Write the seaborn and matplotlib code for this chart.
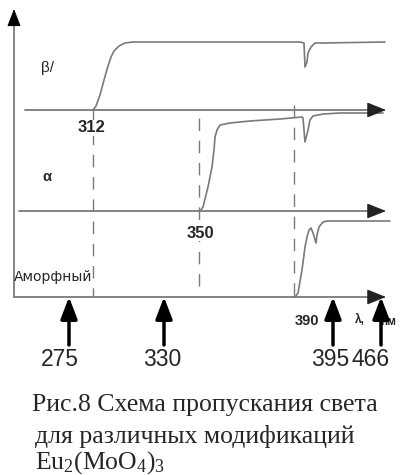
import matplotlib
matplotlib.use("Agg")
import matplotlib.pyplot as plt
import pandas as pd
import seaborn as sns

# Transmission curves of the three modifications (schematic units, y grows downward)
beta_x = [93, 96, 100, 104, 108, 111, 114, 119, 125, 133, 200, 300, 304, 305, 307, 308, 311, 315, 323, 385]
beta_y = [110, 106, 95, 80, 66, 57, 51, 46, 43, 42, 42, 42, 43, 67, 62, 53, 47, 43, 43, 42]
alpha_x = [199, 201, 203, 208, 212, 214, 215, 217, 220, 230, 250, 280, 302, 303, 305, 308, 310, 313, 323, 340, 383]
alpha_y = [211, 210, 207, 187, 167, 150, 137, 130, 125, 123, 121, 119, 117, 118, 142, 130, 120, 116, 114, 113, 113]
amorph_x = [294, 295, 298, 302, 305, 307, 309, 311, 313, 316, 317, 319, 323, 327, 390]
amorph_y = [297, 297, 293, 270, 247, 237, 230, 228, 233, 243, 235, 227, 222, 221, 221]

phases = ["β/", "α", "Аморфный"]
edge_nm = [312, 350, 390]          # absorption edges, nm
source_nm = [275, 330, 395, 466]   # excitation wavelengths, nm
caption = ["Рис.8 Схема пропускания света",
           "для различных модификаций",
           "Eu$_2$(MoO$_4$)$_3$"]

# layout of the schematic
base_y = [110, 211, 297]
axis_x0 = [25, 19, 14]
axis_x1 = 386
edge_x = [93, 199, 294]
edge_top = [110, 118, 105]
source_x = [69, 164, 333, 381]

sns.set_theme(style="white")
plt.rcParams["font.family"] = ["Liberation Sans", "DejaVu Sans"]
plt.rcParams["mathtext.fontset"] = "custom"
plt.rcParams["mathtext.rm"] = "Liberation Serif"
plt.rcParams["mathtext.it"] = "Liberation Serif"

fig = plt.figure(figsize=(4, 4.75), dpi=100)
ax = fig.add_axes([0, 0, 1, 1])
ax.set_xlim(0, 400)
ax.set_ylim(475, 0)
ax.axis("off")

gray = "#7a7a7a"

# curves
df = pd.concat([
    pd.DataFrame({"x": beta_x, "y": beta_y, "phase": phases[0]}),
    pd.DataFrame({"x": alpha_x, "y": alpha_y, "phase": phases[1]}),
    pd.DataFrame({"x": amorph_x, "y": amorph_y, "phase": phases[2]}),
], ignore_index=True)
sns.lineplot(data=df, x="x", y="y", hue="phase", palette=[gray] * 3,
             sort=False, estimator=None, legend=False, lw=1.2, ax=ax)

# vertical axis with arrow
ax.plot([14, 14], [297, 14], color=gray, lw=1.3)
ax.annotate("", xy=(14, 9), xytext=(14, 16),
            arrowprops=dict(arrowstyle="-|>,head_length=0.9,head_width=0.35",
                            color="black", lw=0.8, shrinkA=0, shrinkB=0))

# horizontal wavelength axes
for y0, x0 in zip(base_y, axis_x0):
    ax.plot([x0, axis_x1 - 4], [y0, y0], color=gray, lw=1.3)
    ax.annotate("", xy=(axis_x1, y0), xytext=(axis_x1 - 8, y0),
                arrowprops=dict(arrowstyle="-|>,head_length=1.0,head_width=0.4",
                                color="#222222", lw=0.8, shrinkA=0, shrinkB=0))

# dashed edge markers
for xe, yt in zip(edge_x, edge_top):
    ax.plot([xe, xe], [yt, 297], color=gray, lw=1.0, dashes=(9, 7))

# phase labels
ax.text(48, 68, phases[0], fontsize=11, ha="center", va="center")
ax.text(47, 177, phases[1], fontsize=10.5, fontweight="bold", ha="center", va="center")
ax.text(14, 277, phases[2], fontsize=10, ha="left", va="center",
        family=["DejaVu Sans"])

# edge values
edge_pos = [(92, 128), (200, 233), (307, 321)]
edge_fs = [12, 12, 10.5]
for v, (px, py), fs in zip(edge_nm, edge_pos, edge_fs):
    ax.text(px, py, str(v), fontsize=fs, fontweight="bold", ha="center", va="center",
            bbox=dict(facecolor="white", edgecolor="none", pad=0.3))

ax.text(360, 320, "λ,", fontsize=8.5, fontweight="bold", ha="center", va="center")
ax.text(388, 322, "нм", fontsize=8.5, fontweight="bold", ha="center", va="center")

# excitation wavelength arrows
for xs in source_x:
    ax.annotate("", xy=(xs, 297), xytext=(xs, 345),
                arrowprops=dict(arrowstyle="-|>,head_length=1.1,head_width=0.42",
                                color="black", lw=2.5, shrinkA=0, shrinkB=0))

label_x = [60, 162, 330, 371]
for v, lx in zip(source_nm, label_x):
    ax.text(lx, 359, str(v), fontsize=16.5, ha="center", va="center")

# caption
cap_pos = [(32, 405), (35, 437), (35, 463)]
for line, (cx, cy) in zip(caption, cap_pos):
    ax.text(cx, cy, line, fontsize=18.5, family=["Liberation Serif"],
            ha="left", va="center")

fig.savefig("out.png", dpi=100)
